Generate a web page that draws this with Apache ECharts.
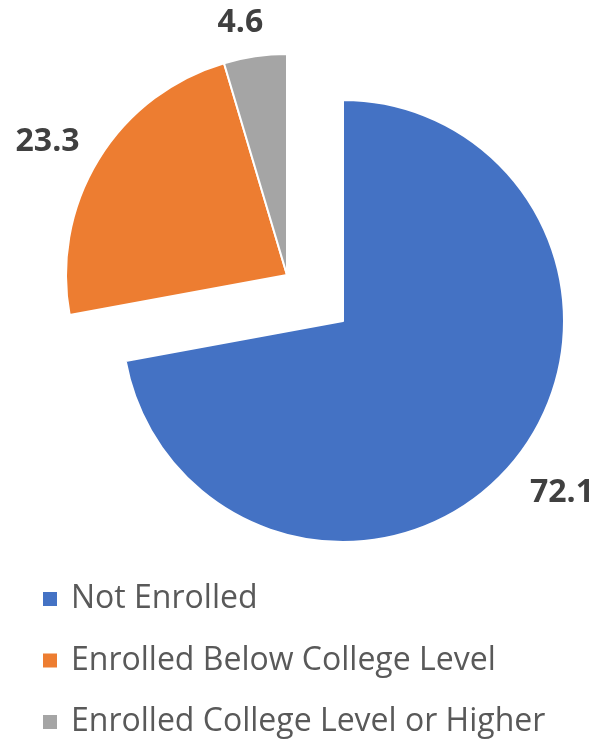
<!DOCTYPE html>
<html>
<head>
<meta charset="utf-8">
<style>
  html, body { margin: 0; padding: 0; background: #ffffff; }
  #chart { width: 599px; height: 740px; }
</style>
<script src="https://cdn.jsdelivr.net/npm/echarts@6/dist/echarts.min.js"></script>
</head>
<body>
<div id="chart"></div>
<script>
// Enrollment status shares (percent)
const categories = ['Not Enrolled', 'Enrolled Below College Level', 'Enrolled College Level or Higher'];
const shares = [72.1, 23.3, 4.6];
const colors = ['#4472C4', '#ED7D31', '#A5A5A5'];

// Label placement per slice: radial length and horizontal pull of the value label
const labelLen = [47, 34, 34];
const labelLen2 = [-24, -15, -18];

const chart = echarts.init(document.getElementById('chart'), null, { renderer: 'canvas' });

const sum = arr => arr.reduce((a, b) => a + b, 0);

const valueLabel = {
  show: true,
  position: 'outside',
  formatter: '{c}',
  color: '#404040',
  fontFamily: 'Open Sans',
  fontWeight: 'bold',
  fontSize: 32,
  distanceToLabelLine: 5
};

const blank = (name, value) => ({
  name: name,
  value: value,
  itemStyle: { color: 'rgba(0,0,0,0)', borderWidth: 0 },
  label: { show: false },
  labelLine: { show: false },
  emphasis: { disabled: true },
  tooltip: { show: false }
});

const slice = i => ({
  name: categories[i],
  value: shares[i],
  itemStyle: { color: colors[i] },
  labelLine: { show: false, length: labelLen[i], length2: labelLen2[i] }
});

// Main slice on its own pie; the two enrolled slices are drawn on a second pie
// whose centre is pulled out toward the upper left.
const mainData = [slice(0), blank('rest-a', sum(shares.slice(1)))];
const explodedData = [blank('rest-b', shares[0]), slice(1), slice(2)];

const pieBase = {
  type: 'pie',
  radius: 221,
  startAngle: 90,
  clockwise: true,
  avoidLabelOverlap: false,
  animation: false,
  emphasis: { disabled: true },
  itemStyle: { borderColor: '#ffffff', borderWidth: 2 },
  label: valueLabel,
  labelLine: { show: false }
};

chart.setOption({
  backgroundColor: '#ffffff',
  color: colors,
  legend: {
    data: categories,
    orient: 'vertical',
    left: 41,
    top: 581,
    padding: 0,
    itemWidth: 16,
    itemHeight: 16,
    itemGap: 25.5,
    icon: 'rect',
    selectedMode: false,
    textStyle: {
      fontFamily: 'Open Sans',
      fontSize: 32,
      lineHeight: 36,
      color: '#595959',
      padding: [0, 0, 0, 8]
    }
  },
  series: [
    Object.assign({}, pieBase, { name: 'main', center: [343, 321], data: mainData }),
    Object.assign({}, pieBase, { name: 'enrolled', center: [287, 275], data: explodedData })
  ]
});
</script>
</body>
</html>
